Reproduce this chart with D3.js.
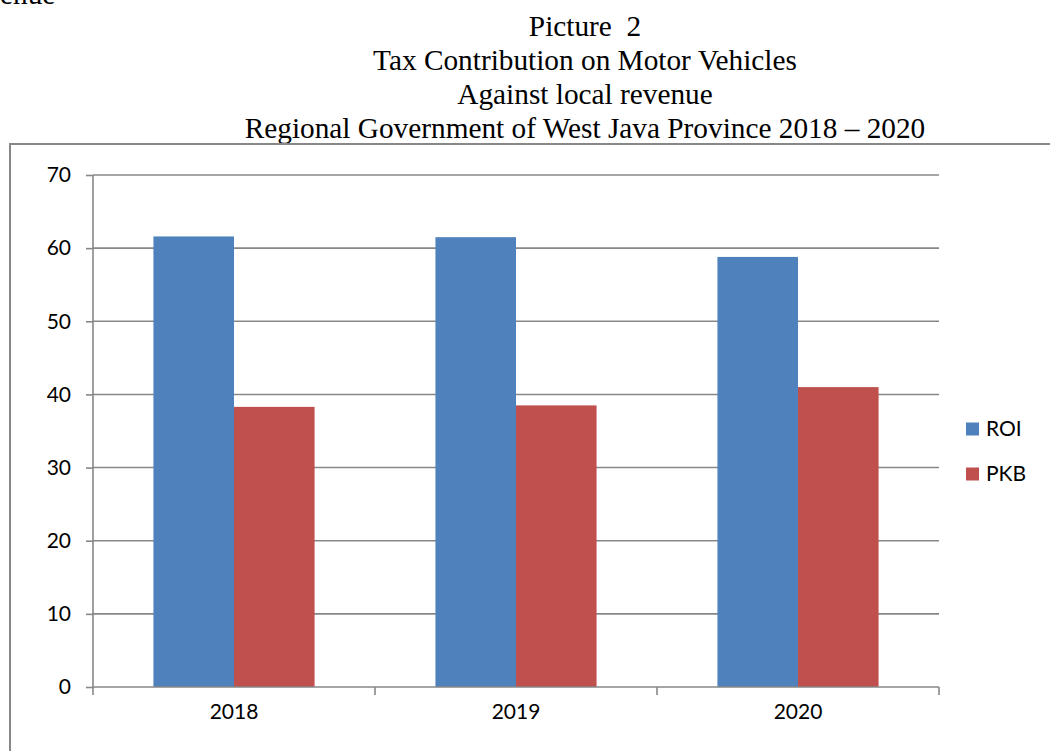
<!DOCTYPE html>
<html>
<head>
<meta charset="utf-8">
<script src="https://cdn.jsdelivr.net/npm/d3@7"></script>
<style>
  body { margin: 0; background: #fff; }
  svg { display: block; }
  .title { font-family: "Liberation Serif", "Times New Roman", serif; font-size: 29.3px; fill: #000; white-space: pre; }
  .legend text { font-family: Lato, "Open Sans", sans-serif; font-size: 21px; fill: #000; }
</style>
</head>
<body>
<script>
//chart data
var years = ["2018", "2019", "2020"];
var series = ["ROI", "PKB"];
var roiValues = [61.6, 61.5, 58.8];
var pkbValues = [38.3, 38.5, 41.0];
var yTicks = [0, 10, 20, 30, 40, 50, 60, 70];
var titleLines = ["Picture  2", "Tax Contribution on Motor Vehicles", "Against local revenue", "Regional Government of West Java Province 2018 \u2013 2020"];
var colors = ["#4F81BD", "#C0504D"];

window.onload = drawChart();

function drawChart(){

	var width = 1050,
		height = 751;

	var svg = d3.select("body")
		.append("svg")
		.attr("width", width)
		.attr("height", height);

	//cut off line of text from page above
	svg.append("text")
		.attr("class", "title")
		.attr("x", 0)
		.attr("y", 4)
		.text("enue");

	//title lines
	svg.selectAll(".titleLine")
		.data(titleLines)
		.enter()
		.append("text")
		.attr("class", "title")
		.attr("text-anchor", "middle")
		.attr("x", 585)
		.attr("y", function(d, i){ return 36 + i * 34; })
		.text(function(d){ return d; });

	//chart frame (only top and left visible)
	svg.append("path")
		.attr("d", "M10," + (height + 2) + "V144H" + (width + 2))
		.attr("fill", "none")
		.attr("stroke", "#888")
		.attr("stroke-width", 2);

	var plot = { left: 93, right: 939, top: 175, bottom: 687 };

	var y = d3.scaleLinear()
		.domain([0, 70])
		.range([plot.bottom, plot.top]);

	var x0 = d3.scaleBand()
		.domain(years)
		.range([plot.left, plot.right]);

	var x1 = d3.scaleBand()
		.domain(series)
		.range([0, x0.bandwidth()])
		.paddingOuter(0.75);

	//gridlines
	svg.selectAll(".grid")
		.data(yTicks.filter(function(d){ return d > 0; }))
		.enter()
		.append("line")
		.attr("class", "grid")
		.attr("x1", plot.left)
		.attr("x2", plot.right)
		.attr("y1", function(d){ return y(d); })
		.attr("y2", function(d){ return y(d); })
		.attr("stroke", "#878787")
		.attr("stroke-width", 1.6);

	//bars
	var table = years.map(function(yr, i){
		return { year: yr, values: [roiValues[i], pkbValues[i]] };
	});

	var groups = svg.selectAll(".group")
		.data(table)
		.enter()
		.append("g")
		.attr("transform", function(d){ return "translate(" + x0(d.year) + ",0)"; });

	groups.selectAll("rect")
		.data(function(d){ return d.values.map(function(v, j){ return { key: series[j], value: v, idx: j }; }); })
		.enter()
		.append("rect")
		.attr("x", function(d){ return x1(d.key); })
		.attr("width", x1.bandwidth())
		.attr("y", function(d){ return y(d.value); })
		.attr("height", function(d){ return y(0) - y(d.value); })
		.attr("fill", function(d){ return colors[d.idx]; });

	//y axis
	var yAxis = svg.append("g")
		.attr("transform", "translate(" + plot.left + ",0)")
		.call(d3.axisLeft(y).tickValues(yTicks).tickSize(7).tickPadding(15));

	//x axis with ticks at category boundaries
	var xAxis = svg.append("g")
		.attr("transform", "translate(0," + plot.bottom + ")")
		.call(d3.axisBottom(x0).tickSize(0).tickPadding(25));

	xAxis.selectAll(".tick text").attr("dy", "0.35em");

	svg.selectAll(".xtick")
		.data(d3.range(years.length + 1))
		.enter()
		.append("line")
		.attr("x1", function(i){ return plot.left + i * x0.step(); })
		.attr("x2", function(i){ return plot.left + i * x0.step(); })
		.attr("y1", plot.bottom)
		.attr("y2", plot.bottom + 8)
		.attr("stroke", "#878787")
		.attr("stroke-width", 1.6);

	[yAxis, xAxis].forEach(function(ax){
		ax.select(".domain").attr("stroke", "#878787").attr("stroke-width", 1.6);
		ax.selectAll(".tick line").attr("stroke", "#878787").attr("stroke-width", 1.6);
		ax.selectAll(".tick text")
			.attr("fill", "#000")
			.style("font-family", "Lato, 'Open Sans', sans-serif")
			.style("font-size", "21px");
	});
	yAxis.select(".domain").attr("d", "M0," + plot.top + "V" + plot.bottom);
	xAxis.select(".domain").attr("d", "M" + plot.left + ",0H" + plot.right);

	//legend
	var legend = svg.selectAll(".legend")
		.data(series)
		.enter()
		.append("g")
		.attr("class", "legend")
		.attr("transform", function(d, i){ return "translate(966," + (429 + i * 45) + ")"; });

	legend.append("rect")
		.attr("x", 0)
		.attr("y", -6.5)
		.attr("width", 13)
		.attr("height", 13)
		.attr("fill", function(d, i){ return colors[i]; });

	legend.append("text")
		.attr("x", 20)
		.attr("dy", "0.35em")
		.text(function(d){ return d; });
};
</script>
</body>
</html>
